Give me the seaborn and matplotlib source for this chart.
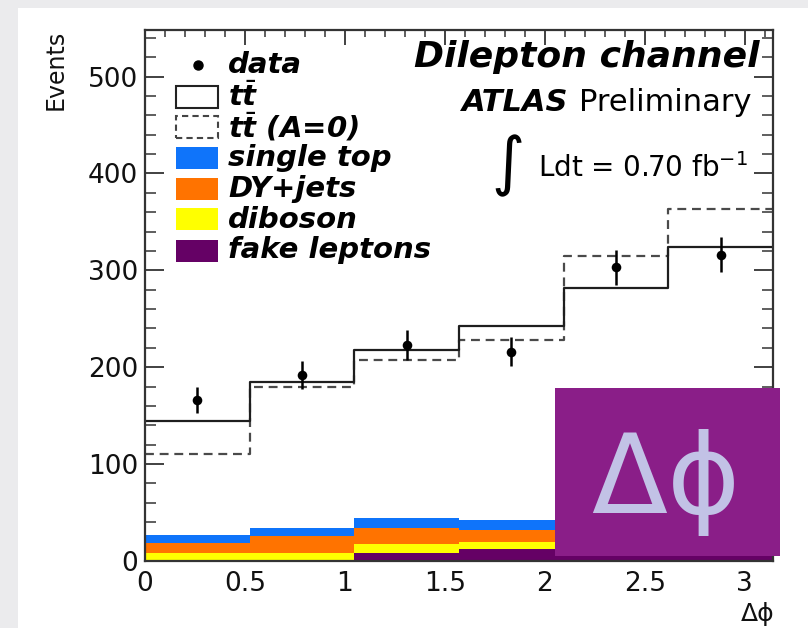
import numpy as np
import pandas as pd
import matplotlib
matplotlib.use("Agg")
import matplotlib.pyplot as plt
import seaborn as sns
from matplotlib.patches import Rectangle
from matplotlib.lines import Line2D
from matplotlib.ticker import MultipleLocator, FixedLocator, FixedFormatter

# ---------------- data ----------------
bin_edges = [0.0, 0.5236, 1.0472, 1.5708, 2.0944, 2.6180, 3.1416]
bin_centers = [0.2618, 0.7854, 1.3090, 1.8326, 2.3562, 2.8798]

bkg_order = ["single top", "DY+jets", "diboson", "fake leptons"]
fake_leptons = [1.5, 1.5, 8.5, 12.0, 13.5, 13.5]
diboson = [6.5, 6.5, 9.0, 8.0, 7.0, 7.0]
dy_jets = [11.0, 18.0, 17.0, 11.5, 11.0, 10.0]
single_top = [7.5, 8.5, 10.0, 11.0, 10.5, 10.5]

ttbar_total = [144.7, 185.2, 217.3, 243.0, 281.7, 323.7]
ttbar_a0_total = [110.5, 179.5, 207.6, 228.3, 314.4, 363.6]

data_values = [166.3, 192.1, 223.1, 216.2, 303.0, 316.1]
data_errors = [13.4, 14.3, 15.3, 14.7, 17.8, 18.3]

x_ticks = [0, 0.5, 1, 1.5, 2, 2.5, 3]
x_tick_labels = ["0", "0.5", "1", "1.5", "2", "2.5", "3"]
y_ticks = [0, 100, 200, 300, 400, 500]
y_tick_labels = ["0", "100", "200", "300", "400", "500"]

bkg_colors = {"single top": "#0f74fa", "DY+jets": "#ff7300",
              "diboson": "#ffff00", "fake leptons": "#650165"}

# ---------------- figure ----------------
sns.set_style("ticks")
plt.rcParams["font.family"] = ["DejaVu Sans"]
plt.rcParams["mathtext.fontset"] = "custom"
plt.rcParams["mathtext.rm"] = "DejaVu Sans"
plt.rcParams["mathtext.it"] = "DejaVu Sans:italic:bold"
plt.rcParams["mathtext.bf"] = "DejaVu Sans:bold"

W, H = 808, 628
fig = plt.figure(figsize=(W / 100, H / 100), dpi=100, facecolor="#ebebed")

def fx(px):
    return px / W

def fy(py):
    return 1 - py / H

# white canvas
fig.add_artist(Rectangle((fx(18), 0), 1 - fx(18), fy(8), transform=fig.transFigure,
                         facecolor="white", edgecolor="none", zorder=-5))

ax_l, ax_r, ax_t, ax_b = 145, 773, 30, 561
ax = fig.add_axes([fx(ax_l), fy(ax_b), fx(ax_r) - fx(ax_l), fy(ax_t) - fy(ax_b)])
ax.set_facecolor("white")

rows = []
for name, vals in zip(bkg_order, [single_top, dy_jets, diboson, fake_leptons]):
    for c, v in zip(bin_centers, vals):
        rows.append({"center": c, "events": v, "process": name})
bkg_df = pd.DataFrame(rows)

sns.histplot(data=bkg_df, x="center", weights="events", hue="process",
             hue_order=bkg_order, multiple="stack", bins=bin_edges,
             element="step", fill=True, alpha=1, linewidth=0,
             palette=bkg_colors, legend=False, ax=ax)

sns.histplot(x=bin_centers, weights=ttbar_a0_total, bins=bin_edges, element="step",
             fill=False, color="#4a4a4a", linewidth=1.6, linestyle=(0, (4, 2.6)), ax=ax)
sns.histplot(x=bin_centers, weights=ttbar_total, bins=bin_edges, element="step",
             fill=False, color="#1e1e1e", linewidth=1.6, ax=ax)

ax.errorbar(bin_centers, data_values, yerr=data_errors, fmt="none",
            ecolor="black", elinewidth=1.8, capsize=0, zorder=6)
sns.scatterplot(x=bin_centers, y=data_values, color="black", s=48,
                edgecolor="black", linewidth=0, zorder=7, ax=ax)

ax.set_xlim(0, 3.1416)
ax.set_ylim(0, 548)
ax.set_xlabel("")
ax.set_ylabel("")
ax.xaxis.set_major_locator(FixedLocator(x_ticks))
ax.xaxis.set_major_formatter(FixedFormatter(x_tick_labels))
ax.yaxis.set_major_locator(FixedLocator(y_ticks))
ax.yaxis.set_major_formatter(FixedFormatter(y_tick_labels))
ax.xaxis.set_minor_locator(MultipleLocator(0.1))
ax.yaxis.set_minor_locator(MultipleLocator(20))
ax.tick_params(which="both", direction="in", top=True, right=True,
               color="#333333", labelsize=19, labelcolor="#111111")
ax.tick_params(axis="x", which="major", length=10.5, width=1.3, pad=7)
ax.tick_params(axis="x", which="minor", length=5.2, width=1.1)
ax.tick_params(axis="y", which="major", length=14, width=1.3, pad=5)
ax.tick_params(axis="y", which="minor", length=8, width=1.1)
for s in ax.spines.values():
    s.set_visible(True)
    s.set_color("#333333")
    s.set_linewidth(1.6)

# axis titles
fig.text(fx(56), fy(30), "Events", rotation=90, ha="center", va="top",
         fontsize=17, color="#111111")
fig.text(fx(758), fy(614), "\u0394\u03d5", ha="center", va="center",
         fontsize=18, color="#111111")

# legend (manual, ROOT style)
leg_fs = 21
row_y = [65, 97, 127, 157.5, 189, 219.5, 250.5]
box_x0, box_x1, box_h = 176, 218, 22
text_x = 228
fig.add_artist(Line2D([fx(198)], [fy(row_y[0])], marker="o", markersize=6.5,
                      color="black", transform=fig.transFigure, zorder=5))
fig.add_artist(Rectangle((fx(box_x0), fy(row_y[1] + box_h / 2)), fx(box_x1 - box_x0), box_h / H,
                         transform=fig.transFigure, facecolor="white",
                         edgecolor="#222222", linewidth=1.5, zorder=5))
fig.add_artist(Rectangle((fx(box_x0), fy(row_y[2] + box_h / 2)), fx(box_x1 - box_x0), box_h / H,
                         transform=fig.transFigure, facecolor="white",
                         edgecolor="#444444", linewidth=1.5, linestyle=(0, (3, 2)), zorder=5))
for i, name in enumerate(bkg_order):
    yy = row_y[3 + i]
    fig.add_artist(Rectangle((fx(box_x0), fy(yy + box_h / 2)), fx(box_x1 - box_x0), box_h / H,
                             transform=fig.transFigure, facecolor=bkg_colors[name],
                             edgecolor="none", zorder=5))
leg_labels = ["data", r"$t\bar{t}$", r"$t\bar{t}$ (A=0)"] + bkg_order
for yy, lab in zip(row_y, leg_labels):
    fig.text(fx(text_x), fy(yy), lab, ha="left", va="center", fontsize=leg_fs,
             fontweight="bold", style="italic", color="black", zorder=6)

# top-right labels
fig.text(fx(760), fy(67), "Dilepton channel", ha="right", va="baseline",
         fontsize=26, fontweight="bold", style="italic", color="black")
fig.text(fx(568), fy(111), "ATLAS", ha="right", va="baseline",
         fontsize=22, fontweight="bold", style="italic", color="black")
fig.text(fx(752), fy(111), "Preliminary", ha="right", va="baseline",
         fontsize=22, color="black")
fig.text(fx(508), fy(166), "\u222b", ha="center", va="center",
         fontsize=46, color="black")
fig.text(fx(538), fy(177), r"Ldt = 0.70 fb$^{-1}$", ha="left", va="baseline",
         fontsize=20, color="black")

# purple overlay box
fig.add_artist(Rectangle((fx(555), fy(556)), fx(780 - 555), (556 - 388) / H,
                         transform=fig.transFigure, facecolor="#8a1e88",
                         edgecolor="none", zorder=20))
fig.text(fx(666), fy(513), "\u0394\u03d5", ha="center", va="baseline",
         fontsize=80, color="#c2c2e6", family=["DejaVu Sans"], zorder=21)

fig.savefig("out.png", dpi=100, facecolor=fig.get_facecolor())
